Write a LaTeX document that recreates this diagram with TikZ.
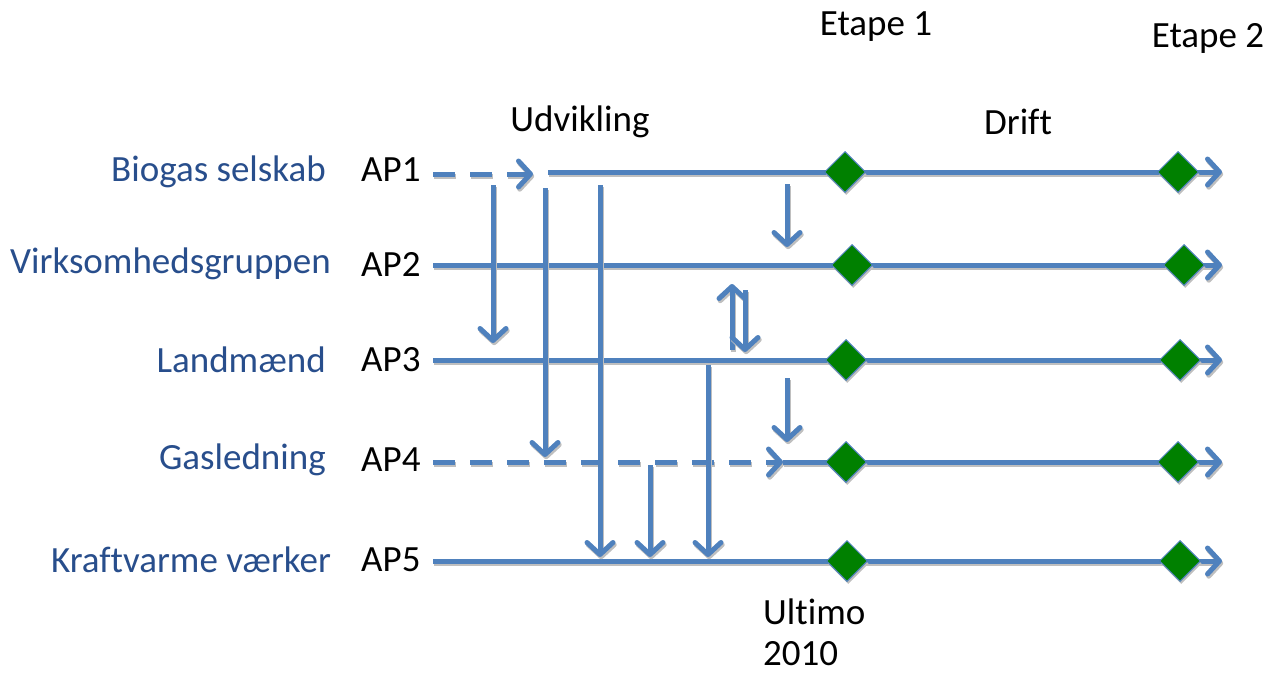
\documentclass[tikz,border=0pt]{standalone}
\usepackage{fontspec}
\setmainfont{Carlito}[Ligatures=NoCommon]
\usetikzlibrary{arrows.meta,shapes.geometric}
\definecolor{lineblue}{RGB}{79,129,189}
\definecolor{labelblue}{RGB}{40,78,140}
\definecolor{msgreen}{RGB}{0,128,0}
\tikzset{
  barb/.style={-{Straight Barb[length=12pt,width=26pt,line cap=round,line join=round]}},
  tipped/.style={draw=lineblue, line width=5pt, barb,
    preaction={draw=black!25, line width=5pt, barb, transform canvas={shift={(1.2pt,-2.2pt)}}}},
  dashtipped/.style={draw=lineblue, line width=5pt, barb, dash pattern=on 22pt off 15pt,
    preaction={draw=black!25, line width=5pt, barb, dash pattern=on 22pt off 15pt, transform canvas={shift={(1.2pt,-2.2pt)}}}},
  milestone/.style={diamond, aspect=1, minimum size=41pt, inner sep=0pt, fill=msgreen, draw=lineblue, line width=1pt,
    preaction={fill=black!25, transform canvas={shift={(1.2pt,-2.5pt)}}}},
  rowlabel/.style={anchor=east, text=labelblue, font=\fontsize{37}{44}\selectfont, inner sep=0pt},
  aplabel/.style={anchor=west, font=\fontsize{37}{44}\selectfont, inner sep=0pt},
  plain/.style={font=\fontsize{37}{44}\selectfont, inner sep=0pt}
}
\begin{document}
\begin{tikzpicture}[x=1pt,y=-1pt]
\useasboundingbox (0,0) rectangle (1275,673);
% labels
\node[rowlabel] (l1) at (326,172) {Biogas selskab};
\node[rowlabel] (l2) at (331,264) {Virksomhedsgruppen};
\node[rowlabel] (l3) at (326,360) {Landmænd};
\node[rowlabel] (l4) at (326,460) {Gasledning};
\node[rowlabel] (l5) at (331,560) {Kraftvarme værker};
\node[aplabel] (ap1) at (361,170) {AP1};
\node[aplabel] (ap2) at (361,264) {AP2};
\node[aplabel] (ap3) at (361,360) {AP3};
\node[aplabel] (ap4) at (361,460) {AP4};
\node[aplabel] (ap5) at (361,560) {AP5};
\node[plain] (e1) at (876,27) {Etape 1};
\node[plain] (e2) at (1208,38) {Etape 2};
\node[plain] (udv) at (580,122) {Udvikling};
\node[plain] (drift) at (1018,122) {Drif\kern0pt t};
\node[plain, anchor=west] (ult) at (763,612) {Ultimo};
\node[plain, anchor=west] (yr) at (763,654) {2010};
% coordinates
\coordinate (r1s) at (433,174); \coordinate (r1m) at (533,174); \coordinate (r1b) at (548,172); \coordinate (r1e) at (1222,172);
\coordinate (r2s) at (433,265); \coordinate (r2e) at (1222,265);
\coordinate (r3s) at (433,360); \coordinate (r3e) at (1222,360);
\coordinate (r4s) at (433,462); \coordinate (r4m) at (783,462); \coordinate (r4e) at (1222,462);
\coordinate (r5s) at (433,561); \coordinate (r5e) at (1222,561);
% horizontal lines
\draw[dashtipped] (r1s) -- (r1m);
\draw[tipped] (r1b) -- (r1e);
\draw[tipped] (r2s) -- (r2e);
\draw[tipped] (r3s) -- (r3e);
\draw[dashtipped] (r4s) -- (r4m);
\draw[tipped] (r4m) -- (r4e);
\draw[tipped] (r5s) -- (r5e);
% vertical arrows
\coordinate (a1s) at (493,185); \coordinate (a1e) at (493,343);
\coordinate (a2s) at (545,188); \coordinate (a2e) at (545,457);
\coordinate (a3s) at (600,185); \coordinate (a3e) at (600,557);
\coordinate (a4s) at (787,184); \coordinate (a4e) at (787,247);
\coordinate (a5s) at (732,350); \coordinate (a5e) at (732,284);
\coordinate (a6s) at (745,290); \coordinate (a6e) at (745,352);
\coordinate (a7s) at (787,378); \coordinate (a7e) at (787,442);
\coordinate (a8s) at (650,465); \coordinate (a8e) at (650,557);
\coordinate (a9s) at (708,365); \coordinate (a9e) at (708,557);
\foreach \i in {1,...,9} {\draw[tipped] (a\i s) -- (a\i e);}
% milestones
\node[milestone] (m11) at (845,172) {};
\node[milestone] (m12) at (1178,172) {};
\node[milestone] (m21) at (852,265) {};
\node[milestone] (m22) at (1184,265) {};
\node[milestone] (m31) at (846,360) {};
\node[milestone] (m32) at (1180,360) {};
\node[milestone] (m41) at (846,462) {};
\node[milestone] (m42) at (1178,462) {};
\node[milestone] (m51) at (847,561) {};
\node[milestone] (m52) at (1180,561) {};
\end{tikzpicture}
\end{document}
